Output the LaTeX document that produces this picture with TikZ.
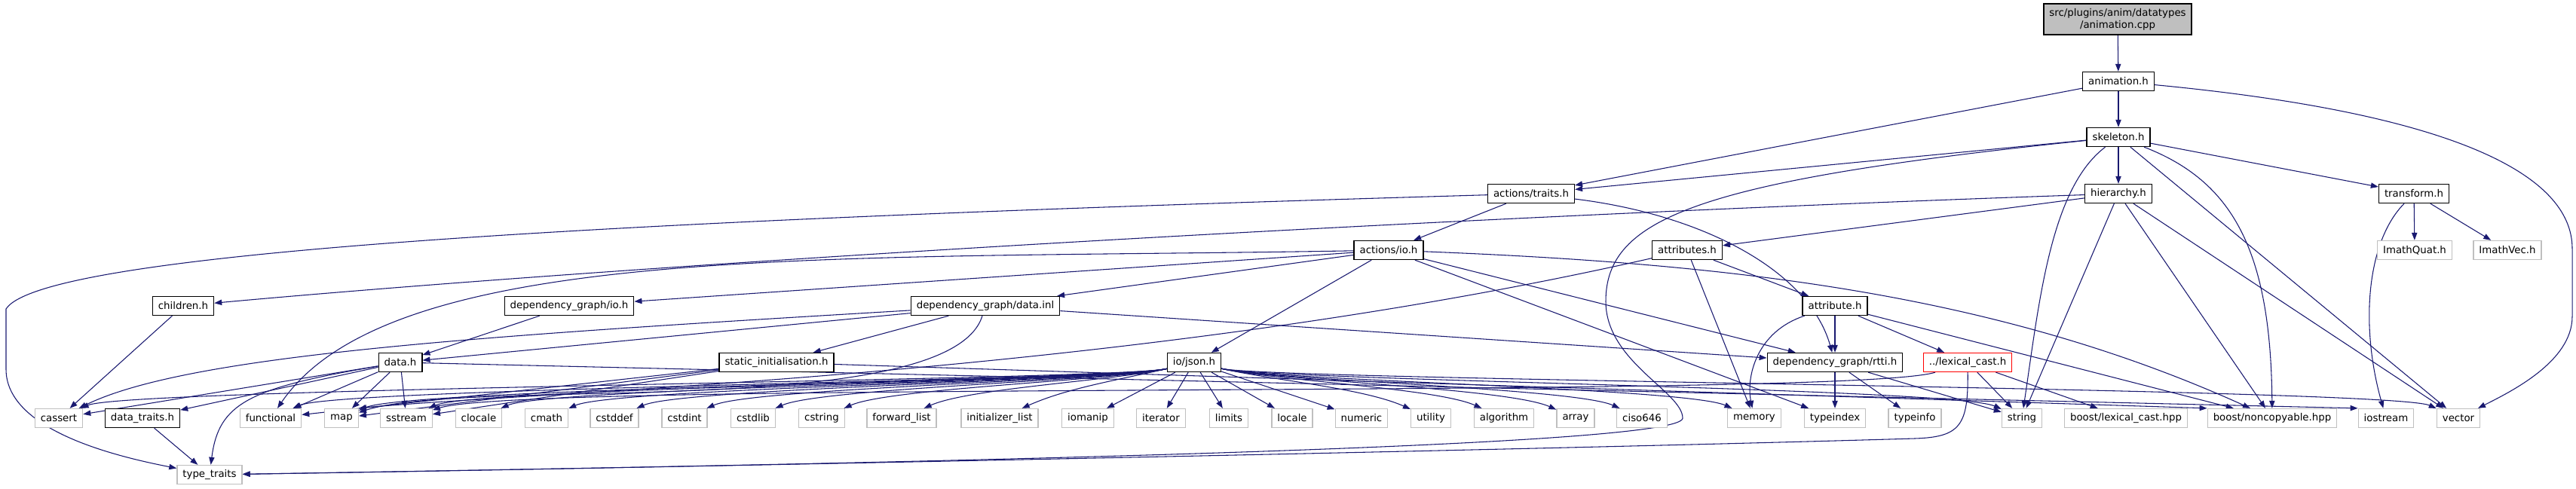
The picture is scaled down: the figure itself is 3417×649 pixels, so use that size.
\documentclass[tikz,border=0pt]{standalone}
\usepackage{fontspec}
\setmainfont{DejaVu Sans}
\usetikzlibrary{arrows.meta}
\definecolor{edgeblue}{HTML}{191970}
\definecolor{sysgray}{HTML}{BFBFBF}
\pgfdeclarelayer{edges}
\pgfsetlayers{edges,main}

\begin{document}
\begin{tikzpicture}[x=0.75pt, y=0.75pt,
  every node/.style={font=\fontsize{10}{12}\selectfont, fill=white,
    inner xsep=5.6pt, inner ysep=0pt, minimum height=18.75pt},
  file/.style={draw=black, line width=1pt},
  sysfile/.style={draw=sysgray, line width=1pt},
  badfile/.style={draw=red, line width=1pt},
  mainfile/.style={draw=black, fill=sysgray, line width=1pt,
    align=center, minimum height=30.75pt},
  inc/.style={draw=edgeblue, line width=0.8pt,
    -{Triangle[length=7.5pt,width=5.5pt]}}]
\useasboundingbox (0,0) rectangle (3417,-649);

% project headers
\node[mainfile] (root) at (2809,-25.5) {src/plugins/anim/datatypes\\/animation.cpp};
\node[file] (anim) at (2810,-108) {animation.h};
\node[file] (skel) at (2810,-182) {skeleton.h};
\node[file] (atraits) at (2031,-257) {actions/traits.h};
\node[file] (hier) at (2810,-257) {hierarchy.h};
\node[file] (xform) at (3202,-257) {transform.h};
\node[file] (aio) at (1842,-332) {actions/io.h};
\node[file] (attrs) at (2238,-332) {attributes.h};
\node[sysfile] (quat) at (3203,-332) {ImathQuat.h};
\node[sysfile] (ivec) at (3326,-332) {ImathVec.h};
\node[file] (child) at (243,-406) {children.h};
\node[file] (dgio) at (755,-406) {dependency\_graph/io.h};
\node[file] (dginl) at (1307,-406) {dependency\_graph/data.inl};
\node[file] (attr) at (2434,-406) {attribute.h};
\node[file] (data) at (531,-481) {data.h};
\node[file] (sinit) at (1030,-481) {static\_initialisation.h};
\node[file] (json) at (1584,-481) {io/json.h};
\node[file] (rtti) at (2434,-481) {dependency\_graph/rtti.h};
\node[badfile] (lcast) at (2610,-481) {../lexical\_cast.h};
\node[file] (dtraits) at (189,-555) {data\_traits.h};

% system headers
\foreach \n/\x/\txt in {cassert/78/cassert, functional/359/functional, map/453/map,
    sstream/539/sstream, clocale/635/clocale, cmath/725/cmath, cstddef/815/cstddef,
    cstdint/908/cstdint, cstdlib/999/cstdlib, cstring/1090/cstring,
    fwdlist/1196/forward\_list, initlist/1326/initializer\_list, iomanip/1443/iomanip,
    iterator/1540/iterator, limits/1630/limits, locale/1714/locale, numeric/1806/numeric,
    utility/1898/utility, algorithm/1995/algorithm, array/2090/array, ciso646/2178/ciso646,
    memory/2327/memory, typeindex/2434/typeindex, typeinfo/2540/typeinfo, string/2682/string,
    blcast/2820/{boost/lexical\_cast.hpp}, noncopy/3014/{boost/noncopyable.hpp},
    iostream/3165/iostream, vector/3261/vector}
  \node[sysfile] (\n) at (\x,-555) {\txt};
\node[sysfile] (ttraits) at (278,-630) {type\_traits};

\begin{pgfonlayer}{edges}
\draw[inc] (root) -- (anim);
\draw[inc] (anim) -- (atraits);
\draw[inc] (anim) -- (skel);
\draw[inc] (anim) .. controls (3250,-150) and (3412,-230) .. (3412,-330)
  -- (3412,-420) .. controls (3412,-480) and (3330,-520) .. (vector);

\draw[inc] (skel) -- (atraits);
\draw[inc] (skel) -- (hier);
\draw[inc] (skel) -- (xform);
\draw[inc] (skel) .. controls (2250,-240) and (2130,-290) .. (2130,-400)
  .. controls (2130,-480) and (2232,-520) .. (2232,-555)
  .. controls (2232,-590) and (1400,-612) .. (ttraits);
\draw[inc] (skel) .. controls (2720,-250) and (2705,-400) .. (string);
\draw[inc] (skel) .. controls (2960,-240) and (3012,-330) .. (noncopy);
\draw[inc] (skel) -- (vector);

\draw[inc] (hier) .. controls (1800,-292) and (800,-355) .. (child);
\draw[inc] (hier) -- (attrs);
\draw[inc] (hier) -- (string);
\draw[inc] (hier) -- (noncopy);
\draw[inc] (hier) -- (vector);

\draw[inc] (xform) -- (quat);
\draw[inc] (xform) -- (ivec);
\draw[inc] (xform) .. controls (3140,-320) and (3130,-430) .. (iostream);

\draw[inc] (atraits) -- (aio);
\draw[inc] (atraits) .. controls (900,-290) and (60,-330) .. (8,-410)
  -- (8,-490) .. controls (8,-570) and (150,-605) .. (ttraits);
\draw[inc] (atraits) .. controls (2260,-285) and (2400,-360) .. (rtti);

\draw[inc] (aio) .. controls (1100,-345) and (520,-320) .. (functional);
\draw[inc] (aio) -- (dgio);
\draw[inc] (aio) -- (dginl);
\draw[inc] (aio) -- (json);
\draw[inc] (aio) .. controls (2300,-350) and (2650,-390) .. (noncopy);
\draw[inc] (aio) -- (rtti);
\draw[inc] (aio) -- (typeindex);

\draw[inc] (attrs) -- (attr);
\draw[inc] (attrs) -- (memory);
\draw[inc] (attrs) .. controls (1500,-500) and (700,-520) .. (map.north east);

\draw[inc] (child) -- (cassert);
\draw[inc] (dgio) -- (data);

\draw[inc] (dginl) .. controls (650,-445) and (250,-470) .. (cassert);
\draw[inc] (dginl) -- (data);
\draw[inc] (dginl) -- (sinit);
\draw[inc] (dginl) .. controls (1260,-560) and (620,-500) .. (map);
\draw[inc] (dginl) -- (rtti);

\draw[inc] (attr) .. controls (2330,-440) and (2316,-500) .. (memory);
\draw[inc] (attr) -- (rtti);
\draw[inc] (attr) -- (lcast);
\draw[inc] (attr) -- (noncopy);

\draw[inc] (data) -- (cassert);
\draw[inc] (data) -- (dtraits);
\draw[inc] (data) -- (functional);
\draw[inc] (data) -- (map);
\draw[inc] (data) -- (sstream);
\draw[inc] (data) .. controls (330,-515) and (290,-535) .. (ttraits);
\draw[inc] (data) -- (iostream.north west);

\draw[inc] (sinit) -- (functional);
\draw[inc] (sinit) -- (map);
\draw[inc] (sinit) -- (sstream);
\draw[inc] (sinit) -- (noncopy.north west);

% io/json.h fans out over the whole bottom row
\foreach \hdr/\hx in {cassert/78, functional/359, map/453, sstream/539, clocale/635,
    cmath/725, cstddef/815, cstdint/908, cstdlib/999, cstring/1090, fwdlist/1196,
    initlist/1326}
  \draw[inc] (json) .. controls (1480,-505) and (\hx+90,-515) .. (\hdr);
\foreach \hdr in {iomanip, iterator, limits, locale, numeric}
  \draw[inc] (json) -- (\hdr);
\foreach \hdr/\hx in {utility/1898, algorithm/1995, array/2090, ciso646/2178,
    memory/2327, string/2682, vector/3261}
  \draw[inc] (json) .. controls (1690,-505) and (\hx-90,-515) .. (\hdr);

\draw[inc] (rtti) -- (typeindex);
\draw[inc] (rtti) -- (typeinfo);
\draw[inc] (rtti) -- (string);

\draw[inc] (lcast) -- (string);
\draw[inc] (lcast) -- (blcast);
\draw[inc] (lcast) .. controls (2450,-530) and (700,-505) .. (sstream);
\draw[inc] (lcast) .. controls (2611,-565) and (2600,-580) .. (2540,-582)
  .. controls (2000,-598) and (800,-622) .. (ttraits);

\draw[inc] (dtraits) -- (ttraits);
\end{pgfonlayer}
\end{tikzpicture}
\end{document}
